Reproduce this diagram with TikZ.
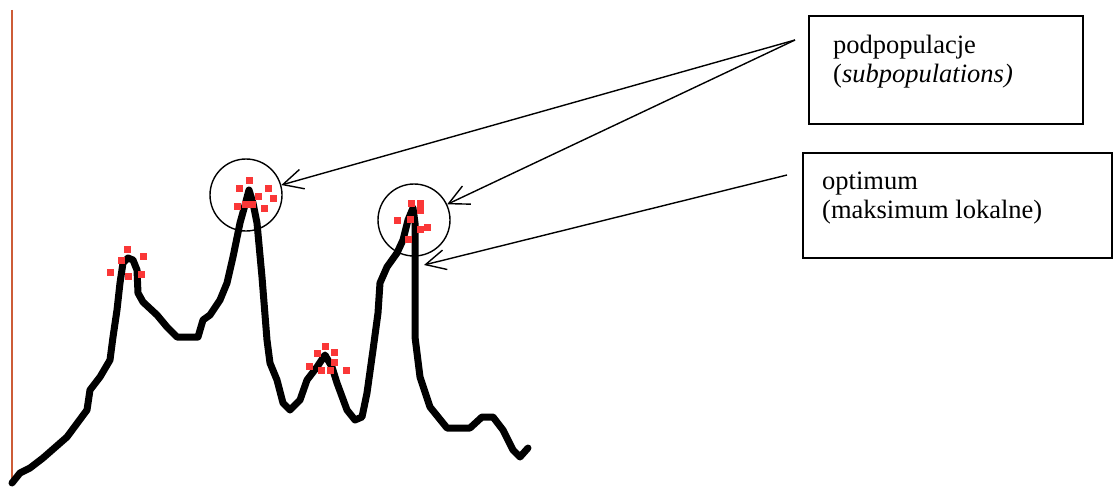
\documentclass[tikz,border=0pt]{standalone}
\usepackage{fontspec}
\setmainfont{Liberation Serif}
\usetikzlibrary{arrows.meta}
\definecolor{axisorange}{RGB}{205,92,55}
\definecolor{dotred}{RGB}{250,55,55}
\tikzset{
  curveline/.style={line width=7pt, line join=round, line cap=round, black},
  axisline/.style={line width=2.2pt, axisorange},
  ring/.style={circle, draw, line width=1.4pt, minimum size=72pt, inner sep=0pt},
  labelbox/.style={draw, line width=1.4pt, rectangle, inner sep=0pt},
  pointer/.style={line width=1.4pt, -{Straight Barb[length=20pt, width=20pt, line width=1.4pt]}},
  lbl/.style={anchor=base west, inner sep=0pt, font=\fontsize{26.5}{29}\selectfont},
  dot/.style={fill=dotred, draw=none}
}
\newcommand{\rdot}[2]{\fill[dot] (#1-3.5,#2-3.5) rectangle (#1+3.5,#2+3.5);}
\begin{document}
\begin{tikzpicture}[x=1pt,y=-1pt]
\useasboundingbox (0,0) rectangle (1114,487);
% axis
\draw[axisline] (12,10) -- (12,484);
% fitness landscape
\draw[curveline] (12,483) -- (20,473) -- (30,468) -- (43,458) -- (67,437) -- (87,410) -- (90,390) -- (100,377) -- (110,360) -- (113,337) -- (117,310) -- (120,283) -- (123,263) -- (128,258) -- (133,260) -- (137,270) -- (138,293) -- (143,302) -- (157,315) -- (167,327) -- (177,337) -- (198,337) -- (203,320) -- (210,315) -- (220,300) -- (227,283) -- (233,257) -- (240,223) -- (245,205) -- (249,190) -- (253,203) -- (257,223) -- (262,277) -- (267,340) -- (270,363) -- (277,380) -- (283,403) -- (290,410) -- (300,400) -- (307,380) -- (317,367) -- (325,355) -- (332,367) -- (337,383) -- (347,410) -- (355,420) -- (362,417) -- (367,393) -- (373,350) -- (378,313) -- (380,283) -- (387,267) -- (397,253) -- (403,240) -- (408,220) -- (413,208) -- (415,223) -- (415,337) -- (420,377) -- (430,407) -- (447,428) -- (470,428) -- (482,417) -- (493,417) -- (503,430) -- (513,450) -- (520,457) -- (528,448);
% population dots
\rdot{127}{249}\rdot{121}{260}\rdot{143}{256}\rdot{110}{272}\rdot{128}{276}\rdot{141}{274}
\rdot{249}{180}\rdot{239}{188}\rdot{268}{188}\rdot{258}{196}\rdot{273}{198}\rdot{237}{206}\rdot{245}{204}\rdot{252}{204}\rdot{264}{208}
\rdot{325}{346}\rdot{317}{353}\rdot{334}{352}\rdot{334}{362}\rdot{309}{366}\rdot{321}{370}\rdot{330}{370}\rdot{346}{370}
\rdot{411}{203}\rdot{420}{203}\rdot{420}{210}\rdot{410}{219}\rdot{397}{220}\rdot{427}{227}\rdot{420}{229}\rdot{408}{239}
% circles around subpopulations
\node[ring] (c1) at (246,195) {};
\node[ring] (c2) at (414,220) {};
% boxes
\node[labelbox, minimum width=274pt, minimum height=108pt] (box1) at (946,70) {};
\node[labelbox, minimum width=309pt, minimum height=105pt] (box2) at (957.5,205.5) {};
\node[lbl] (t1a) at (833,54) {podpopulacje};
\node[lbl] (t1b) at (833,83) {(\textit{subpopulations)}};
\node[lbl] (t2a) at (822,189) {optimum};
\node[lbl] (t2b) at (822,218) {(maksimum lokalne)};
% arrows
\coordinate (s1) at (795,40);
\coordinate (s3) at (787,175);
\coordinate (t3) at (424,265);
\draw[pointer] (s1) -- (c1);
\draw[pointer] (s1) -- (c2);
\draw[pointer] (s3) -- (t3);
\end{tikzpicture}
\end{document}
